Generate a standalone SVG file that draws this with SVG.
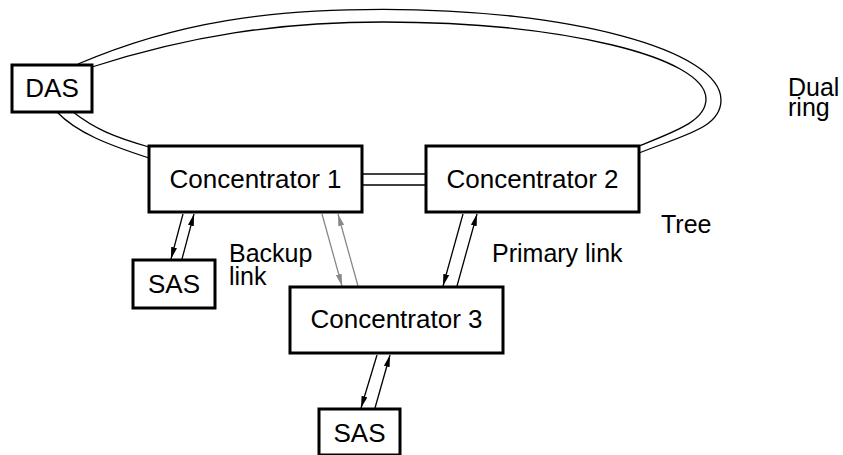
<svg xmlns="http://www.w3.org/2000/svg" width="843" height="455" viewBox="0 0 843 455">
  <style>
    .box { fill: #fff; stroke: #000; stroke-width: 3; }
    .ring { fill: none; stroke: #000; stroke-width: 1.3; }
    .lnk { stroke: #000; stroke-width: 1.3; fill: none; }
    .gray { stroke: #888; stroke-width: 1.3; fill: none; }
    .t { font-family: "Liberation Sans", Arial, sans-serif; font-size: 26px; fill: #000; text-anchor: middle; }
    .lbl { font-family: "Liberation Sans", Arial, sans-serif; font-size: 25px; fill: #000; }
  </style>
  <defs>
    <marker id="ab" markerUnits="userSpaceOnUse" markerWidth="14" markerHeight="8" refX="12" refY="3" orient="auto">
      <path d="M0,0 L12,3 L0,6 z" fill="#000"/>
    </marker>
    <marker id="ag" markerUnits="userSpaceOnUse" markerWidth="14" markerHeight="8" refX="12" refY="3" orient="auto">
      <path d="M0,0 L12,3 L0,6 z" fill="#888"/>
    </marker>
  </defs>
  <rect width="843" height="455" fill="#fff"/>
  <g id="connectors">
    <!-- dual ring -->
    <path class="ring" d="M78,64 C178,21 273,9.3 383,9.3 C569,9.3 721,50 721,100 C721,128 684,135 639,153"/>
    <path class="ring" d="M92,67 C188,36 278,22 383,22 C561,22 706,57 706,99 C706,120 679,130 639,146"/>
    <path class="ring" d="M57,112 C77,133 109,145 149,158"/>
    <path class="ring" d="M73,112 C95,129 114,137 149,147"/>
    <!-- C1 - C2 double link -->
    <line class="ring" x1="362" y1="174" x2="426" y2="174"/>
    <line class="ring" x1="362" y1="185" x2="426" y2="185"/>
    <!-- SAS1 - C1 -->
    <line class="lnk" x1="183" y1="214" x2="171" y2="259" marker-end="url(#ab)"/>
    <line class="lnk" x1="182" y1="259" x2="194" y2="214" marker-end="url(#ab)"/>
    <!-- Backup link -->
    <line class="gray" x1="322" y1="214" x2="342" y2="286" marker-end="url(#ag)"/>
    <line class="gray" x1="358" y1="286" x2="338" y2="214" marker-end="url(#ag)"/>
    <!-- Primary link -->
    <line class="lnk" x1="463" y1="214" x2="443" y2="286" marker-end="url(#ab)"/>
    <line class="lnk" x1="457" y1="286" x2="477" y2="214" marker-end="url(#ab)"/>
    <!-- C3 - SAS2 -->
    <line class="lnk" x1="377" y1="355" x2="361" y2="408" marker-end="url(#ab)"/>
    <line class="lnk" x1="375" y1="408" x2="390" y2="355" marker-end="url(#ab)"/>
  </g>
  <g id="das">
    <rect class="box" x="12" y="65" width="80" height="47"/>
    <text class="t" x="52" y="97">DAS</text>
  </g>
  <g id="concentrator1">
    <rect class="box" x="149" y="146" width="213" height="66"/>
    <text class="t" x="255.5" y="188">Concentrator 1</text>
  </g>
  <g id="concentrator2">
    <rect class="box" x="426" y="146" width="213" height="66"/>
    <text class="t" x="532.5" y="188">Concentrator 2</text>
  </g>
  <g id="concentrator3">
    <rect class="box" x="290" y="287" width="213" height="66"/>
    <text class="t" x="396.5" y="328">Concentrator 3</text>
  </g>
  <g id="sas1">
    <rect class="box" x="133" y="260" width="82" height="48"/>
    <text class="t" x="174" y="293">SAS</text>
  </g>
  <g id="sas2">
    <rect class="box" x="319" y="409" width="81" height="46"/>
    <text class="t" x="359.5" y="442">SAS</text>
  </g>
  <g id="labels">
    <text class="lbl" x="229" y="262">Backup</text>
    <text class="lbl" x="229" y="285">link</text>
    <text class="lbl" x="492" y="262">Primary link</text>
    <text class="lbl" x="661" y="233">Tree</text>
    <text class="lbl" x="788" y="96">Dual</text>
    <text class="lbl" x="788" y="116">ring</text>
  </g>
</svg>
